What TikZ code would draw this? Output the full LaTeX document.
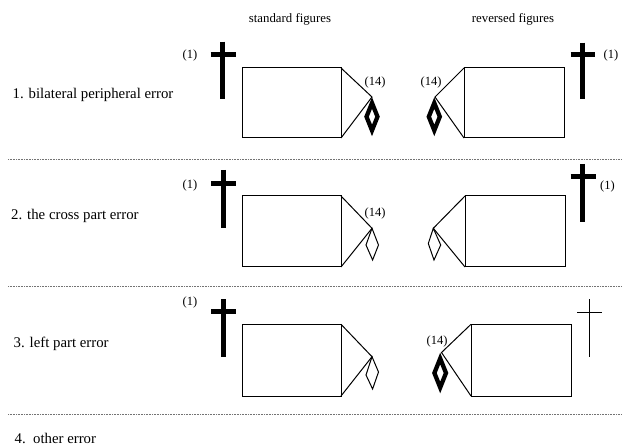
\documentclass[tikz,border=0pt]{standalone}
\usepackage{fontspec}
\setmainfont{Liberation Serif}
\begin{document}
\begin{tikzpicture}[x=1pt,y=-1pt,
  fig/.style={draw=black,line width=1pt,line join=miter},
  crossthick/.style={draw=black,line width=5pt,line cap=butt},
  crossthin/.style={draw=black,line width=1pt,line cap=butt},
  thindia/.style={draw=black,fill=white,line width=1pt,line join=miter},
  thickdia/.style={draw=black,fill=white,line width=4.3pt,line join=miter},
  sepline/.style={draw=black!55,line width=0.8pt,dash pattern=on 0.8pt off 0.8pt},
  rowlabel/.style={anchor=base west,inner sep=0pt,font=\fontsize{14.8}{17}\selectfont},
  header/.style={anchor=base,inner sep=0pt,font=\fontsize{12.8}{15}\selectfont},
  numlabel/.style={inner sep=0pt,font=\fontsize{12.5}{14}\selectfont}
]
\useasboundingbox (0,0) rectangle (624,446);
\fill[white] (0,0) rectangle (624,446);

% headers
\node[header] (hstd) at (290,22.5) {standard figures};
\node[header] (hrev) at (513,22.5) {reversed figures};

% row labels
\node[rowlabel] (l1) at (12.5,99) {1. bilateral peripheral error};
\node[rowlabel] (l2) at (11,220) {2. the cross part error};
\node[rowlabel] (l3) at (13.5,348) {3. left part error};
\node[rowlabel] (l4) at (14.5,443.5) {4.\ \ other error};

% separators
\coordinate (s1a) at (8,159);   \coordinate (s1b) at (622,159);
\coordinate (s2a) at (8,286);   \coordinate (s2b) at (622,286);
\coordinate (s3a) at (8,414);   \coordinate (s3b) at (622,414);
\draw[sepline] (s1a) -- (s1b);
\draw[sepline] (s2a) -- (s2b);
\draw[sepline] (s3a) -- (s3b);

% ---------------- Row 1 ----------------
% standard
\node[numlabel] (n1a) at (190,55) {(1)};
\draw[crossthick] (222.5,41.7) -- (222.5,99.3);
\draw[crossthick] (210.7,54.5) -- (235.7,54.5);
\coordinate (r1a) at (242,68); \coordinate (r1b) at (341,138);
\draw[fig] (r1a) rectangle (r1b);
\coordinate (t1a) at (372,97);
\draw[fig] (341,68) -- (t1a) -- (341,138);
\draw[thickdia] (372,103) -- (377.5,116.7) -- (372,130.4) -- (366.5,116.7) -- cycle;
\node[numlabel] (m1a) at (375,82) {(14)};
% reversed
\node[numlabel] (n1b) at (611,55) {(1)};
\draw[crossthick] (582.7,42.7) -- (582.7,99.3);
\draw[crossthick] (570.7,54.5) -- (595.2,54.5);
\coordinate (r1c) at (464,68); \coordinate (r1d) at (564,138);
\draw[fig] (r1c) rectangle (r1d);
\coordinate (t1b) at (435,97);
\draw[fig] (464,68) -- (t1b) -- (464,138);
\draw[thickdia] (434.3,103) -- (439.8,116.7) -- (434.3,130.4) -- (428.8,116.7) -- cycle;
\node[numlabel] (m1b) at (431,82) {(14)};

% ---------------- Row 2 ----------------
% standard
\node[numlabel] (n2a) at (190,185) {(1)};
\draw[crossthick] (223,170) -- (223,228);
\draw[crossthick] (211,183.3) -- (236,183.3);
\coordinate (r2a) at (242,196); \coordinate (r2b) at (341,267);
\draw[fig] (r2a) rectangle (r2b);
\coordinate (t2a) at (372,228.3);
\draw[fig] (341,196) -- (t2a) -- (341,267);
\draw[thindia] (t2a) -- (378.5,245) -- (372.6,260) -- (366,245) -- cycle;
\node[numlabel] (m2a) at (375,213) {(14)};
% reversed
\node[numlabel] (n2b) at (607.5,186) {(1)};
\draw[crossthick] (582.7,164) -- (582.7,221.7);
\draw[crossthick] (570.7,176.3) -- (595.7,176.3);
\coordinate (r2c) at (465,196); \coordinate (r2d) at (565,267);
\draw[fig] (r2c) rectangle (r2d);
\coordinate (t2b) at (433.3,228.3);
\draw[fig] (465,196) -- (t2b) -- (465,267);
\draw[thindia] (t2b) -- (440.7,245) -- (434,260) -- (428.3,243.5) -- cycle;

% ---------------- Row 3 ----------------
% standard
\node[numlabel] (n3a) at (190,302.7) {(1)};
\draw[crossthick] (223,299.3) -- (223,356.7);
\draw[crossthick] (211,312) -- (236,312);
\coordinate (r3a) at (242,324.3); \coordinate (r3b) at (341,396);
\draw[fig] (r3a) rectangle (r3b);
\coordinate (t3a) at (372,356.7);
\draw[fig] (341,324.3) -- (t3a) -- (341,396);
\draw[thindia] (t3a) -- (378.5,372) -- (372.6,389) -- (366,375) -- cycle;
% reversed
\draw[crossthin] (589.3,299.3) -- (589.3,356.7);
\draw[crossthin] (577.3,312.3) -- (601.7,312.3);
\coordinate (r3c) at (471,324.3); \coordinate (r3d) at (571,396);
\draw[fig] (r3c) rectangle (r3d);
\coordinate (t3b) at (441.5,352.5);
\draw[fig] (471,324.3) -- (t3b) -- (471,396);
\draw[thickdia] (440.2,358.5) -- (446,373) -- (440.2,387.5) -- (434.4,373) -- cycle;
\node[numlabel] (m3b) at (437,341.7) {(14)};
\end{tikzpicture}
\end{document}
